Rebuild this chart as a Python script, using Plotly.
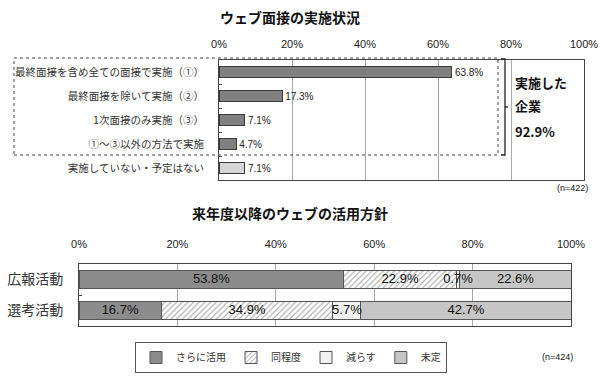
import plotly.graph_objects as go

# ---- data ----
top_title = "ウェブ面接の実施状況"
top_categories = ["最終面接を含め全ての面接で実施（①）", "最終面接を除いて実施（②）",
                  "1次面接のみ実施（③）", "①～③以外の方法で実施", "実施していない・予定はない"]
top_values = [63.8, 17.3, 7.1, 4.7, 7.1]
top_colors = ["#808080", "#808080", "#808080", "#808080", "#d6d6d6"]

bot_title = "来年度以降のウェブの活用方針"
bot_categories = ["広報活動", "選考活動"]
bot_series = ["さらに活用", "同程度", "減らす", "未定"]
bot_values = {
    "さらに活用": [53.8, 16.7],
    "同程度": [22.9, 34.9],
    "減らす": [0.7, 5.7],
    "未定": [22.6, 42.7],
}
x_ticks = [0, 20, 40, 60, 80, 100]
x_ticklabels = ["0%", "20%", "40%", "60%", "80%", "100%"]

FONT = "Noto Sans CJK JP"
NUM_FONT = "Liberation Sans Narrow, Liberation Sans, sans-serif"
W, H = 600, 380

def px_x(x):
    return x / W

def px_y(y):
    return 1 - y / H

fig = go.Figure()

# top chart
fig.add_trace(go.Bar(
    x=top_values, y=top_categories, orientation="h",
    marker=dict(color=top_colors, line=dict(color="#3a3a3a", width=1)),
    width=0.48,
    text=[f"{v:.1f}%" for v in top_values], textposition="outside",
    textfont=dict(family=NUM_FONT, size=10, color="#222"),
    cliponaxis=False, showlegend=False,
    xaxis="x", yaxis="y",
))

# bottom chart
styles = {
    "さらに活用": dict(color="#8c8c8c"),
    "同程度": dict(color="#ffffff", pattern=dict(shape="/", fgcolor="#666666", bgcolor="#ffffff", size=4, solidity=0.3)),
    "減らす": dict(color="#f2f2f2"),
    "未定": dict(color="#c6c6c6"),
}
for s in bot_series:
    vals = bot_values[s]
    fig.add_trace(go.Bar(
        x=vals, y=bot_categories, orientation="h", name=s,
        marker=dict(line=dict(color="#555555", width=1), **styles[s]),
        width=0.56,
        xaxis="x2", yaxis="y2",
    ))

# value labels for stacked segments, placed at each segment's centre (drawn on top)
lab_x, lab_y, lab_t = [], [], []
for i, cat in enumerate(bot_categories):
    cum = 0.0
    for s in bot_series:
        v = bot_values[s][i]
        lab_x.append(cum + v / 2)
        lab_y.append(cat)
        lab_t.append(f"{v:.1f}%")
        cum += v
fig.add_trace(go.Scatter(
    x=lab_x, y=lab_y, text=lab_t, mode="text", textposition="middle center",
    textfont=dict(family=NUM_FONT, size=13, color="#111"),
    showlegend=False, hoverinfo="skip", cliponaxis=False,
    xaxis="x2", yaxis="y2",
))

axis_common = dict(
    range=[0, 100], tickvals=x_ticks, ticktext=x_ticklabels, side="top",
    showgrid=True, gridcolor="#a8a8a8", gridwidth=1,
    showline=True, linecolor="#444", linewidth=1, mirror=True,
    ticks="", zeroline=False, fixedrange=True, automargin=False,
    tickfont=dict(family=NUM_FONT, size=11, color="#222"),
)

fig.update_layout(
    width=W, height=H,
    margin=dict(l=0, r=0, t=0, b=0),
    paper_bgcolor="white", plot_bgcolor="white",
    barmode="stack",
    font=dict(family=FONT, color="#222"),
    xaxis=dict(domain=[px_x(219), px_x(584)], anchor="y", ticklabelstandoff=7, **axis_common),
    yaxis=dict(domain=[px_y(180), px_y(60)], anchor="x", autorange="reversed",
               type="category", tickson="boundaries", ticks="inside", ticklen=3,
               tickcolor="#444", showline=True, linecolor="#444", mirror=True,
               ticklabelstandoff=12, automargin=False,
               tickfont=dict(family=FONT, size=10.5, color="#333"), fixedrange=True),
    xaxis2=dict(domain=[px_x(79), px_x(571)], anchor="y2", ticklabelstandoff=11, **axis_common),
    yaxis2=dict(domain=[px_y(326), px_y(264)], anchor="x2", autorange="reversed",
                type="category", tickson="boundaries", ticks="inside", ticklen=3,
                tickcolor="#444", showline=True, linecolor="#444", mirror=True,
                ticklabelstandoff=12, automargin=False,
                tickfont=dict(family=FONT, size=14, color="#333"), fixedrange=True),
    legend=dict(orientation="h", x=px_x(291), y=px_y(357.5), xanchor="center", yanchor="middle",
                bordercolor="#555", borderwidth=1, bgcolor="white",
                font=dict(family=FONT, size=10, color="#333"),
                itemwidth=30, traceorder="normal", tracegroupgap=0),
    bargap=0.4,
)

annots = [
    dict(text=f"<b>{top_title}</b>", x=px_x(290), y=px_y(17), font=dict(size=14)),
    dict(text=f"<b>{bot_title}</b>", x=px_x(290), y=px_y(213), font=dict(size=14)),
    dict(text="<b>実施した</b>", x=px_x(513), y=px_y(82), xanchor="left", font=dict(size=13)),
    dict(text="<b>企業</b>", x=px_x(513), y=px_y(106), xanchor="left", font=dict(size=13)),
    dict(text="<b>92.9%</b>", x=px_x(513), y=px_y(131), xanchor="left", font=dict(size=13)),
    dict(text="(n=422)", x=px_x(572), y=px_y(188), xanchor="center", font=dict(family=NUM_FONT, size=9)),
    dict(text="(n=424)", x=px_x(557), y=px_y(357), xanchor="center", font=dict(family=NUM_FONT, size=9)),
]
for a in annots:
    a.setdefault("xanchor", "center")
    fig.add_annotation(xref="paper", yref="paper", showarrow=False, yanchor="middle",
                       font_color="#111", **{k: v for k, v in a.items() if k != "font"},
                       font_size=a["font"]["size"], font_family=a["font"].get("family", FONT))

# dashed group box and bracket
fig.add_shape(type="rect", xref="paper", yref="paper",
              x0=px_x(14), x1=px_x(498), y0=px_y(155), y1=px_y(58),
              line=dict(color="#444", width=1, dash="dot"))
fig.add_shape(type="path", xref="paper", yref="paper",
              path=f"M {px_x(501)},{px_y(59)} L {px_x(505)},{px_y(59)} L {px_x(505)},{px_y(155)} L {px_x(501)},{px_y(155)}",
              line=dict(color="#222", width=1.3))
fig.add_shape(type="line", xref="paper", yref="paper",
              x0=px_x(505), x1=px_x(508), y0=px_y(107), y1=px_y(107),
              line=dict(color="#222", width=1.3))

# remove the page's default body margin so the 600x380 figure fills the window
fig.write_html("out.html", config={"displayModeBar": False},
               post_script="document.body.style.margin='0';")
